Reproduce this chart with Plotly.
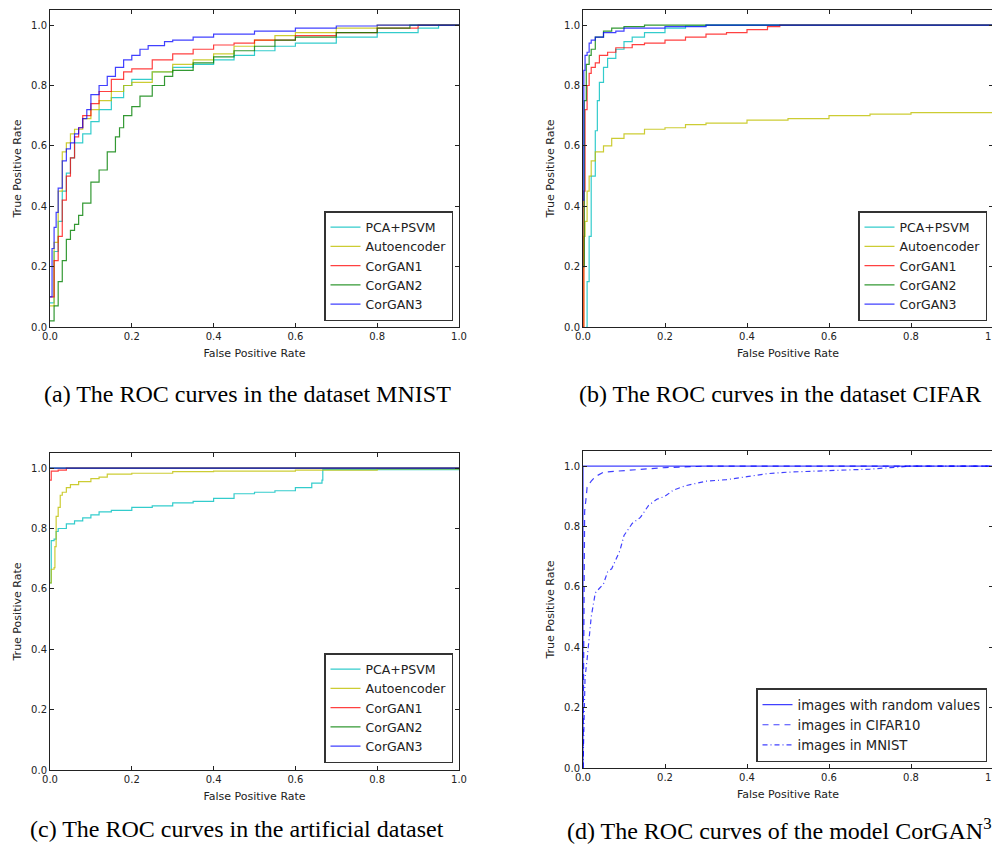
import plotly.graph_objects as go

# The page body has an 8px margin, so the figure is drawn 8px in from the window's corner.
OFF = 8
W, H = 1000 - OFF, 848 - OFF

# ---------------- Data ----------------
# (a) MNIST
a_pca_x = [0, 0.01, 0.02, 0.03, 0.04, 0.05, 0.06, 0.08, 0.1, 0.12, 0.15, 0.18, 0.2, 0.25, 0.3, 0.35, 0.4, 0.45, 0.5, 0.55, 0.6, 0.7, 0.8, 0.9, 0.95, 1.0]
a_pca_y = [0.08, 0.25, 0.35, 0.45, 0.51, 0.56, 0.61, 0.64, 0.68, 0.72, 0.76, 0.80, 0.82, 0.845, 0.86, 0.87, 0.885, 0.90, 0.915, 0.93, 0.94, 0.96, 0.975, 0.99, 1.0, 1.0]
a_ae_x = [0, 0.01, 0.02, 0.03, 0.04, 0.05, 0.06, 0.08, 0.1, 0.12, 0.15, 0.18, 0.2, 0.25, 0.3, 0.35, 0.4, 0.45, 0.5, 0.55, 0.6, 0.7, 0.8, 1.0]
a_ae_y = [0.07, 0.28, 0.45, 0.58, 0.61, 0.64, 0.655, 0.69, 0.72, 0.75, 0.78, 0.80, 0.81, 0.845, 0.87, 0.885, 0.905, 0.93, 0.95, 0.965, 0.975, 0.99, 1.0, 1.0]
a_c1_x = [0, 0.01, 0.02, 0.03, 0.04, 0.05, 0.06, 0.07, 0.08, 0.1, 0.12, 0.15, 0.18, 0.2, 0.25, 0.3, 0.35, 0.4, 0.45, 0.5, 0.6, 0.7, 0.8, 0.9, 1.0]
a_c1_y = [0.10, 0.22, 0.30, 0.42, 0.50, 0.56, 0.63, 0.66, 0.70, 0.74, 0.78, 0.82, 0.845, 0.855, 0.885, 0.905, 0.92, 0.934, 0.94, 0.95, 0.965, 0.975, 0.99, 1.0, 1.0]
a_c2_x = [0, 0.01, 0.02, 0.03, 0.04, 0.05, 0.06, 0.07, 0.08, 0.1, 0.12, 0.14, 0.16, 0.17, 0.18, 0.2, 0.22, 0.25, 0.28, 0.3, 0.35, 0.4, 0.45, 0.5, 0.55, 0.6, 0.7, 0.8, 0.88, 1.0]
a_c2_y = [0.02, 0.07, 0.15, 0.22, 0.29, 0.32, 0.34, 0.37, 0.41, 0.48, 0.52, 0.58, 0.63, 0.66, 0.70, 0.73, 0.765, 0.80, 0.83, 0.85, 0.875, 0.895, 0.915, 0.93, 0.95, 0.96, 0.975, 0.99, 1.0, 1.0]
a_c3_x = [0, 0.005, 0.01, 0.015, 0.02, 0.03, 0.04, 0.05, 0.06, 0.07, 0.08, 0.09, 0.1, 0.12, 0.14, 0.16, 0.18, 0.2, 0.22, 0.24, 0.28, 0.3, 0.35, 0.4, 0.5, 0.6, 0.7, 0.8, 1.0]
a_c3_y = [0.10, 0.26, 0.33, 0.38, 0.46, 0.55, 0.59, 0.61, 0.64, 0.66, 0.69, 0.72, 0.77, 0.80, 0.83, 0.86, 0.885, 0.90, 0.92, 0.932, 0.945, 0.95, 0.96, 0.97, 0.98, 0.99, 0.997, 1.0, 1.0]

# (b) CIFAR
b_pca_x = [0.008, 0.01, 0.015, 0.02, 0.03, 0.035, 0.04, 0.05, 0.06, 0.08, 0.1, 0.12, 0.15, 0.2, 0.25, 0.3, 1.0]
b_pca_y = [0.0, 0.15, 0.30, 0.50, 0.65, 0.75, 0.81, 0.86, 0.89, 0.92, 0.945, 0.96, 0.975, 0.99, 0.997, 1.0, 1.0]
b_ae_x = [0, 0.002, 0.005, 0.01, 0.015, 0.02, 0.03, 0.05, 0.07, 0.1, 0.15, 0.2, 0.25, 0.3, 0.4, 0.5, 0.6, 0.7, 0.8, 0.9, 1.0, 1.0]
b_ae_y = [0.0, 0.30, 0.35, 0.45, 0.50, 0.55, 0.58, 0.60, 0.625, 0.64, 0.655, 0.66, 0.67, 0.675, 0.685, 0.69, 0.70, 0.705, 0.71, 0.71, 0.72, 1.0]
b_c1_x = [0, 0.002, 0.005, 0.01, 0.015, 0.02, 0.03, 0.04, 0.06, 0.08, 0.1, 0.12, 0.15, 0.2, 0.25, 0.3, 0.35, 0.4, 0.45, 0.48, 1.0]
b_c1_y = [0.0, 0.45, 0.72, 0.80, 0.84, 0.86, 0.875, 0.90, 0.91, 0.925, 0.925, 0.935, 0.94, 0.95, 0.96, 0.97, 0.975, 0.985, 0.995, 1.0, 1.0]
b_c2_x = [0, 0.003, 0.008, 0.015, 0.02, 0.03, 0.05, 0.07, 0.1, 0.15, 1.0]
b_c2_y = [0.20, 0.75, 0.87, 0.90, 0.92, 0.96, 0.98, 0.99, 0.995, 1.0, 1.0]
b_c3_x = [0, 0.002, 0.005, 0.01, 0.015, 0.02, 0.03, 0.05, 0.08, 0.1, 0.2, 0.3, 1.0]
b_c3_y = [0.42, 0.85, 0.90, 0.91, 0.94, 0.95, 0.96, 0.975, 0.98, 0.99, 0.995, 1.0, 1.0]

# (c) artificial dataset
c_pca_x = [0, 0.003, 0.01, 0.015, 0.02, 0.04, 0.06, 0.08, 0.1, 0.12, 0.15, 0.2, 0.25, 0.3, 0.35, 0.4, 0.45, 0.5, 0.55, 0.6, 0.64, 0.665, 0.667, 1.0]
c_pca_y = [0.62, 0.76, 0.765, 0.79, 0.80, 0.815, 0.825, 0.835, 0.845, 0.855, 0.86, 0.87, 0.875, 0.885, 0.89, 0.90, 0.915, 0.92, 0.925, 0.935, 0.95, 0.96, 0.995, 1.0]
c_ae_x = [0, 0.003, 0.01, 0.012, 0.015, 0.02, 0.025, 0.03, 0.04, 0.05, 0.07, 0.1, 0.12, 0.14, 0.2, 0.3, 0.4, 0.6, 0.8, 1.0]
c_ae_y = [0.62, 0.665, 0.67, 0.74, 0.84, 0.87, 0.91, 0.92, 0.935, 0.945, 0.955, 0.965, 0.97, 0.98, 0.983, 0.988, 0.99, 0.993, 0.997, 1.0]
c_c1_x = [0, 0.003, 0.02, 0.04, 0.055, 1.0]
c_c1_y = [0.96, 0.99, 0.993, 1.0, 1.0, 1.0]
c_c2_x = [0, 1.0]
c_c2_y = [1.0, 1.0]
c_c3_x = [0, 1.0]
c_c3_y = [1.0, 1.0]

# (d) CorGAN3 on different inputs
d_rand_x = [0, 0, 1.0]
d_rand_y = [0.0, 1.0, 1.0]
d_cifar_x = [0, 0.002, 0.004, 0.008, 0.01, 0.02, 0.03, 0.05, 0.1, 0.15, 0.2, 0.3, 1.0]
d_cifar_y = [0.0, 0.50, 0.85, 0.90, 0.93, 0.95, 0.965, 0.98, 0.985, 0.99, 0.995, 1.0, 1.0]
d_mnist_x = [0, 0.003, 0.005, 0.01, 0.015, 0.02, 0.03, 0.05, 0.06, 0.07, 0.08, 0.09, 0.1, 0.12, 0.14, 0.16, 0.18, 0.2, 0.22, 0.25, 0.3, 0.35, 0.4, 0.45, 0.5, 0.6, 0.7, 0.75, 0.8, 1.0]
d_mnist_y = [0.0, 0.20, 0.30, 0.36, 0.42, 0.50, 0.58, 0.61, 0.65, 0.66, 0.69, 0.72, 0.77, 0.81, 0.83, 0.87, 0.89, 0.90, 0.92, 0.935, 0.95, 0.955, 0.965, 0.975, 0.98, 0.985, 0.99, 0.995, 1.0, 1.0]

method_names = ["PCA+PSVM", "Autoencoder", "CorGAN1", "CorGAN2", "CorGAN3"]
method_colors = ["rgba(0,191,191,0.8)", "rgba(191,191,0,0.8)", "rgba(255,0,0,0.75)",
                 "rgba(0,128,0,0.8)", "rgba(0,0,255,0.75)"]
d_color = "rgba(0,0,255,0.75)"
d_names = ["images with random values", "images in CIFAR10", "images in MNIST"]
tick_vals = [0.0, 0.2, 0.4, 0.6, 0.8, 1.0]
tick_text = ["0.0", "0.2", "0.4", "0.6", "0.8", "1.0"]
captions = ["(a) The ROC curves in the dataset MNIST",
            "(b) The ROC curves in the dataset CIFAR",
            "(c) The ROC curves in the artificial dataset",
            "(d) The ROC curves of the model CorGAN<sup>3</sup>"]

# ---------------- Layout geometry (window pixels) ----------------
def px_x(v):
    return (v - OFF) / W

def px_y(v):
    return 1 - (v - OFF) / H

panels = {
    # name: (left, right, top, bottom)
    "a": (50, 459, 10, 327),
    "b": (583, 993, 10, 327),
    "c": (50, 459, 453, 770),
    "d": (583, 993, 451, 768),
}

fig = go.Figure()

axis_ids = {"a": ("x", "y", "legend"), "b": ("x2", "y2", "legend2"),
            "c": ("x3", "y3", "legend3"), "d": ("x4", "y4", "legend4")}

panel_data = {
    "a": [(a_pca_x, a_pca_y), (a_ae_x, a_ae_y), (a_c1_x, a_c1_y), (a_c2_x, a_c2_y), (a_c3_x, a_c3_y)],
    "b": [(b_pca_x, b_pca_y), (b_ae_x, b_ae_y), (b_c1_x, b_c1_y), (b_c2_x, b_c2_y), (b_c3_x, b_c3_y)],
    "c": [(c_pca_x, c_pca_y), (c_ae_x, c_ae_y), (c_c1_x, c_c1_y), (c_c2_x, c_c2_y), (c_c3_x, c_c3_y)],
}

for p in ["a", "b", "c"]:
    xa, ya, lg = axis_ids[p]
    for (xs, ys), name, col in zip(panel_data[p], method_names, method_colors):
        fig.add_trace(go.Scatter(x=xs, y=ys, mode="lines", name=name,
                                 line=dict(color=col, width=1.2, shape="hv"),
                                 xaxis=xa, yaxis=ya, legend=lg))

xa, ya, lg = axis_ids["d"]
d_series = [(d_rand_x, d_rand_y, "solid"), (d_cifar_x, d_cifar_y, "6px,5px"),
            (d_mnist_x, d_mnist_y, "5px,3px,1px,3px")]
for (xs, ys, dash), name in zip(d_series, d_names):
    fig.add_trace(go.Scatter(x=xs, y=ys, mode="lines", name=name,
                             line=dict(color=d_color, width=1.2, dash=dash),
                             xaxis=xa, yaxis=ya, legend=lg))

axis_common = dict(range=[0, 1], tickvals=tick_vals, ticktext=tick_text, ticks="inside",
                   ticklen=4, tickcolor="#222", showline=True, linecolor="#222", linewidth=1,
                   mirror="allticks", showgrid=False, zeroline=False, automargin=False,
                   ticklabeloverflow="allow",
                   tickfont=dict(family="DejaVu Sans", size=10, color="#222"))

layout_axes = {}
for i, p in enumerate(["a", "b", "c", "d"]):
    l, r, t, b = panels[p]
    sx = "" if i == 0 else str(i + 1)
    xa_cfg = dict(axis_common)
    xa_cfg.update(domain=[px_x(l), px_x(r)], anchor="y" + sx,
                  title=dict(text="False Positive Rate", standoff=8,
                             font=dict(family="DejaVu Sans", size=11, color="#222")))
    ya_cfg = dict(axis_common)
    ya_cfg.update(domain=[px_y(b), px_y(t)], anchor="x" + sx, range=[0, 1.05],
                  title=dict(text="True Positive Rate", standoff=7,
                             font=dict(family="DejaVu Sans", size=11, color="#222")))
    layout_axes["xaxis" + sx] = xa_cfg
    layout_axes["yaxis" + sx] = ya_cfg

legend_common = dict(bgcolor="white", bordercolor="#333", borderwidth=1.5,
                     font=dict(family="DejaVu Sans", size=12.5, color="#222"),
                     xanchor="right", yanchor="bottom", tracegroupgap=0)
legends = {
    "legend": dict(legend_common, x=px_x(453), y=px_y(321)),
    "legend2": dict(legend_common, x=px_x(987), y=px_y(321)),
    "legend3": dict(legend_common, x=px_x(453), y=px_y(763)),
    "legend4": dict(legend_common, x=px_x(987), y=px_y(762),
                    font=dict(family="DejaVu Sans", size=13.2, color="#222")),
}

annotations = []
cap_pos = [(247, 394), (780, 394), (237, 829), (779, 829)]
for txt, (cx, cy) in zip(captions, cap_pos):
    annotations.append(dict(text=txt, x=px_x(cx), y=px_y(cy), xref="paper", yref="paper",
                            xanchor="center", yanchor="middle", showarrow=False,
                            font=dict(family="Liberation Serif", size=24, color="black")))

fig.update_layout(width=W, height=H, margin=dict(l=0, r=0, t=0, b=0),
                  paper_bgcolor="white", plot_bgcolor="white",
                  annotations=annotations, **layout_axes, **legends)

fig.write_html("out.html")
